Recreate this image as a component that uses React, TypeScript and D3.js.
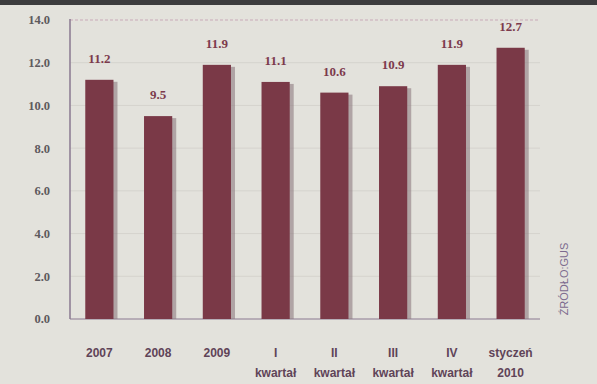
import React from "react";
import * as d3 from "d3";

const categories = ["2007", "2008", "2009", "I|kwartał", "II|kwartał", "III|kwartał", "IV|kwartał", "styczeń|2010"];
const values = [11.2, 9.5, 11.9, 11.1, 10.6, 10.9, 11.9, 12.7];
const yTicks = [0, 2, 4, 6, 8, 10, 12, 14];
const sourceLabel = "ŹRÓDŁO:GUS";

export default function App() {
  const W = 597, H = 384;
  const x = d3.scaleBand<string>().domain(categories).range([70, 540]).paddingInner(0.52).paddingOuter(0.26);
  const y = d3.scaleLinear().domain([0, 14]).range([319, 20]);
  const bw = x.bandwidth();
  return (
    <svg width={W} height={H} style={{ position: "absolute", left: 0, top: 0 }} fontFamily="'DejaVu Sans', sans-serif">
      <rect width={W} height={H} fill="#e3e2dc" />
      <rect width={W} height={5} fill="#3c3c3e" />
      {yTicks.map((t) => (
        <g key={t}>
          {t > 0 && (
            <line x1={70} x2={540} y1={y(t)} y2={y(t)} stroke={t === 14 ? "#c9a9b8" : "#d5d3cd"} strokeWidth={1} strokeDasharray={t === 14 ? "3,2" : "none"} />
          )}
          <text x={50} y={y(t)} dy="0.35em" textAnchor="end" fontSize={12.5} fontWeight="bold" fill="#5e5a5e" fontFamily="'Liberation Serif', serif">
            {t.toFixed(1)}
          </text>
        </g>
      ))}
      <line x1={70} x2={70} y1={19} y2={319} stroke="#8a7890" strokeWidth={1.5} />
      <line x1={70} x2={540} y1={319} y2={319} stroke="#8a7890" strokeWidth={1} />
      {categories.map((c, i) => {
        const bx = x(c)!;
        const v = values[i];
        const lines = c.split("|");
        return (
          <g key={c}>
            <rect x={bx + bw - 2} y={y(v) + 2} width={6} height={319 - y(v) - 2} fill="#8e7c80" opacity={0.6} />
            <rect x={bx} y={y(v)} width={bw} height={319 - y(v)} fill="#7a3947" />
            <text x={bx + bw / 2} y={y(v) - 17} textAnchor="middle" fontSize={13} fontWeight="bold" fill="#7c3a4c" fontFamily="'Liberation Serif', serif">
              {v.toFixed(1)}
            </text>
            {lines.map((l, j) => (
              <text key={j} x={bx + bw / 2} y={357 + j * 20} textAnchor="middle" fontSize={12} fontWeight="bold" fill="#5f4458" fontFamily="'Liberation Sans', sans-serif">
                {l}
              </text>
            ))}
          </g>
        );
      })}
      <text transform="translate(568,279) rotate(-90)" textAnchor="middle" fontSize={11} fill="#7c6a8e" fontFamily="'Liberation Sans', sans-serif">
        {sourceLabel}
      </text>
    </svg>
  );
}
